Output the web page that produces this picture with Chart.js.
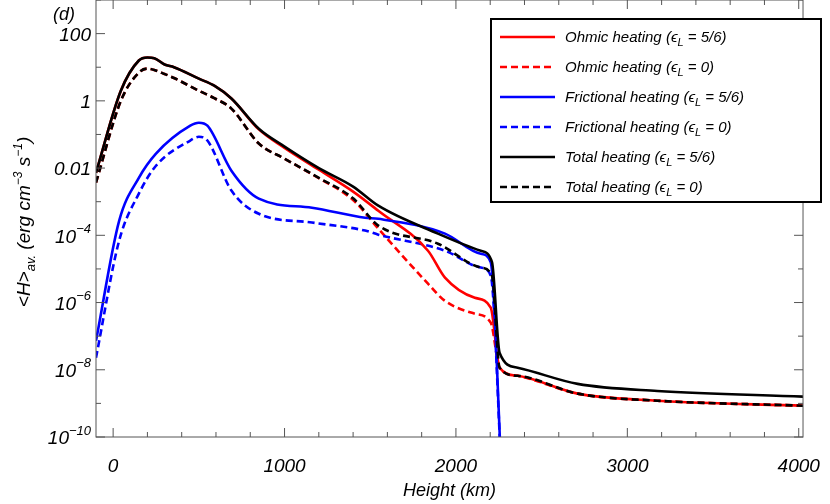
<!DOCTYPE html>
<html><head><meta charset="utf-8">
<script src="https://cdn.jsdelivr.net/npm/chart.js@4/dist/chart.umd.min.js"></script>
<style>html,body{margin:0;background:#fff}#wrap{width:830px;height:504px}</style>
</head><body><div id="wrap"><canvas id="c"></canvas></div>
<script>
// heights (km) and log10 of heating (erg cm^-3 s^-1)
const totalX = [-100, 45, 150, 200, 240, 300, 355, 500, 590, 690, 850, 1000, 1200, 1400, 1547, 1895, 2145, 2210, 2255, 2360, 2710, 3175, 4030];
const totalSolid = [-2.14, 0.3, 1.2, 1.29, 1.27, 1.08, 1.0, 0.66, 0.45, 0.07, -0.83, -1.36, -2.0, -2.55, -3.12, -3.95, -4.46, -4.79, -7.5, -7.94, -8.42, -8.63, -8.8];
const totalDash = [-2.43, 0, 0.84, 0.96, 0.92, 0.8, 0.68, 0.3, 0.08, -0.23, -1.27, -1.72, -2.29, -2.9, -3.71, -4.25, -4.96, -5.2, -7.94, -8.18, -8.71, -8.92, -9.07];

const ohmicX = [-100, 45, 150, 200, 240, 300, 355, 500, 590, 690, 850, 1000, 1200, 1400, 1547, 1837, 1936, 2110, 2203, 2255, 2360, 2710, 3175, 4030];
const ohmicSolid = [-2.14, 0.3, 1.2, 1.29, 1.27, 1.08, 1.0, 0.66, 0.45, 0.07, -0.85, -1.4, -2.05, -2.7, -3.27, -4.46, -5.26, -5.86, -6.15, -7.94, -8.18, -8.71, -8.92, -9.07];
const ohmicDash = [-2.43, 0, 0.84, 0.96, 0.92, 0.8, 0.68, 0.3, 0.08, -0.23, -1.27, -1.72, -2.3, -2.95, -3.8, -5.44, -5.95, -6.33, -6.6, -7.94, -8.18, -8.71, -8.92, -9.07];

const fricX = [-100, 35, 150, 250, 450, 500, 550, 690, 850, 1160, 1470, 1547, 1936, 2145, 2203, 2265];
const fricSolid = [-7.14, -3.57, -2.29, -1.57, -0.74, -0.65, -0.74, -2.08, -2.91, -3.18, -3.48, -3.51, -3.95, -4.55, -4.8, -11];
const fricDash = [-7.64, -4.16, -2.76, -1.93, -1.18, -1.07, -1.18, -2.67, -3.36, -3.62, -3.86, -3.98, -4.46, -4.96, -5.2, -11];

const xTicks = [0, 1000, 2000, 3000, 4000];
const yExps = [2, 0, -2, -4, -6, -8, -10];
const yPlain = {2: "100", 0: "1", "-2": "0.01"};

const legendNames = ["Ohmic heating", "Ohmic heating", "Frictional heating", "Frictional heating", "Total heating", "Total heating"];
const legendEps = ["5/6", "0", "5/6", "0", "5/6", "0"];

const pts = (xs, ys) => xs.map((x, i) => ({x, y: Math.pow(10, ys[i])}));
const ds = (data, color, dash, order) => ({data, borderColor: color, borderWidth: 2.6, borderDash: dash ? [7, 4] : [], pointRadius: 0, cubicInterpolationMode: "monotone", fill: false, order});

const FONT = "'Liberation Sans', Arial, sans-serif";

const decor = {
  id: "decor",
  afterDraw(chart) {
    const {ctx, chartArea: a, scales: {x, y}} = chart;
    ctx.save();
    ctx.strokeStyle = "#555"; ctx.lineWidth = 1;
    ctx.strokeRect(a.left, a.top, a.right - a.left, a.bottom - a.top);
    ctx.beginPath();
    for (let v = 0; v <= 4000; v += 200) {
      const px = x.getPixelForValue(v), L = v % 1000 === 0 ? 9 : 5;
      ctx.moveTo(px, a.bottom); ctx.lineTo(px, a.bottom - L);
      ctx.moveTo(px, a.top); ctx.lineTo(px, a.top + L);
    }
    for (let e = -10; e <= 3; e++) {
      const py = y.getPixelForValue(Math.pow(10, e)), L = e % 2 === 0 ? 9 : 5;
      ctx.moveTo(a.left, py); ctx.lineTo(a.left + L, py);
      ctx.moveTo(a.right, py); ctx.lineTo(a.right - L, py);
    }
    ctx.stroke();

    ctx.fillStyle = "#000";
    // y tick labels
    ctx.textAlign = "left"; ctx.textBaseline = "middle";
    yExps.forEach(e => {
      const py = y.getPixelForValue(Math.pow(10, e)) + 2;
      const segs = yPlain[e] !== undefined ? [[yPlain[e], 19, 0]] : [["10", 19, 0], ["−" + (-e), 13, -8]];
      let w = 0;
      segs.forEach(s => { ctx.font = "italic " + s[1] + "px " + FONT; w += ctx.measureText(s[0]).width; });
      let tx = a.left - 5 - w;
      segs.forEach(s => { ctx.font = "italic " + s[1] + "px " + FONT; ctx.fillText(s[0], tx, py + s[2]); tx += ctx.measureText(s[0]).width; });
    });

    // panel label and axis titles
    ctx.textBaseline = "alphabetic";
    ctx.font = "italic 18px " + FONT;
    ctx.fillText("(d)", 53, 20);
    ctx.textAlign = "center";
    ctx.fillText("Height (km)", (a.left + a.right) / 2, 496);
    ctx.save();
    ctx.translate(24, 222); ctx.rotate(-Math.PI / 2);
    ctx.textAlign = "left";
    const parts = [["<H>", 19, 0], ["av.", 13, 5], [" (erg cm", 19, 0], ["−3", 12, -8], [" s", 19, 0], ["−1", 12, -8], [")", 19, 0]];
    let tw = 0;
    parts.forEach(p => { ctx.font = "italic " + p[1] + "px " + FONT; tw += ctx.measureText(p[0]).width; });
    let cx = -tw / 2;
    parts.forEach(p => { ctx.font = "italic " + p[1] + "px " + FONT; ctx.fillText(p[0], cx, p[2] + 6); cx += ctx.measureText(p[0]).width; });
    ctx.restore();

    // legend
    const lx = 491, ly = 19, lw = 330, lh = 183;
    ctx.fillStyle = "#fff"; ctx.fillRect(lx, ly, lw, lh);
    ctx.strokeStyle = "#000"; ctx.lineWidth = 2; ctx.strokeRect(lx, ly, lw, lh);
    chart.data.datasets.forEach((d, i) => {
      const yy = 37 + i * 30;
      ctx.strokeStyle = d.borderColor; ctx.lineWidth = 2.6;
      ctx.setLineDash(d.borderDash);
      ctx.beginPath(); ctx.moveTo(500, yy); ctx.lineTo(555, yy); ctx.stroke();
      ctx.setLineDash([]);
      ctx.fillStyle = "#000"; ctx.textAlign = "left";
      let tx = 565;
      const seg = [[legendNames[i] + " (ϵ", 15, 0], ["L", 11, 4], [" = " + legendEps[i] + ")", 15, 0]];
      seg.forEach(s => { ctx.font = "italic " + s[1] + "px " + FONT; ctx.fillText(s[0], tx, yy + 5 + s[2]); tx += ctx.measureText(s[0]).width; });
    });
    ctx.restore();
  }
};

new Chart(document.getElementById("c"), {
  type: "line",
  data: {
    datasets: [
      ds(pts(ohmicX, ohmicSolid), "#ff0000", false, 4),
      ds(pts(ohmicX, ohmicDash), "#ff0000", true, 6),
      ds(pts(fricX, fricSolid), "#0000ff", false, 3),
      ds(pts(fricX, fricDash), "#0000ff", true, 5),
      ds(pts(totalX, totalSolid), "#000000", false, 1),
      ds(pts(totalX, totalDash), "#000000", true, 2)
    ]
  },
  options: {
    responsive: true, maintainAspectRatio: false, animation: false,
    layout: {padding: {top: 0, right: 22, left: 0, bottom: 0}},
    plugins: {legend: {display: false}, tooltip: {enabled: false}},
    scales: {
      x: {
        type: "linear", min: -100, max: 4025,
        grid: {display: false}, border: {display: false},
        afterBuildTicks: s => { s.ticks = xTicks.map(v => ({value: v})); },
        ticks: {color: "#000", font: {family: FONT, size: 19, style: "italic"}, maxRotation: 0, padding: 10,
          callback: v => String(v)},
        afterFit: s => { s.height = 67; }
      },
      y: {
        type: "logarithmic", min: 1e-10, max: 1e3,
        grid: {display: false}, border: {display: false},
        afterBuildTicks: s => { s.ticks = yExps.map(e => ({value: Math.pow(10, e)})); },
        ticks: {display: false},
        afterFit: s => { s.width = 96; }
      }
    }
  },
  plugins: [decor]
});
</script></body></html>
